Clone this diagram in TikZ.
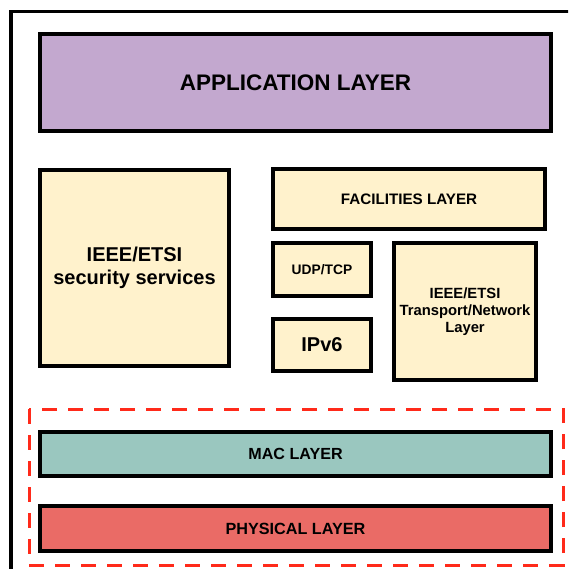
\documentclass[tikz,border=0pt]{standalone}
\usepackage{fontspec}
\setmainfont{Liberation Sans}
\definecolor{appc}{HTML}{C3A8CF}
\definecolor{yelc}{HTML}{FFF2CC}
\definecolor{macc}{HTML}{9AC7BF}
\definecolor{phyc}{HTML}{EA6B66}
\definecolor{dashc}{HTML}{FF2A1A}
\begin{document}
\begin{tikzpicture}[x=1pt,y=-1pt,
  layerbox/.style={draw=black,line width=4pt,rectangle,inner sep=0pt,align=center,font=\bfseries},
  dashframe/.style={draw=dashc,line width=3pt,dash pattern=on 15pt off 11pt}]
\useasboundingbox (0,0) rectangle (568,569);
\clip (0,0) rectangle (568,569);
\fill[white] (0,0) rectangle (568,569);
\draw[line width=3.5pt] (11,11.5) rectangle (620,620);
\node[layerbox,fill=appc,minimum width=511pt,minimum height=97pt,font=\bfseries\fontsize{22.5}{26}\selectfont] (app) at (295.5,82.5) {APPLICATION LAYER};
\node[layerbox,fill=yelc,minimum width=189pt,minimum height=195pt,font=\bfseries\fontsize{20}{23}\selectfont] (sec) at (134.5,268) {IEEE/ETSI\\security services};
\node[layerbox,fill=yelc,minimum width=272pt,minimum height=60pt,font=\bfseries\fontsize{15.2}{17}\selectfont] (fac) at (409,199) {FACILITIES LAYER};
\node[layerbox,fill=yelc,minimum width=98pt,minimum height=53pt,font=\bfseries\fontsize{13.8}{16}\selectfont] (udp) at (322,269.5) {UDP/TCP};
\node[layerbox,fill=yelc,minimum width=98pt,minimum height=52pt,font=\bfseries\fontsize{20}{23}\selectfont] (ipv) at (322,345) {IPv6};
\node[layerbox,fill=yelc,minimum width=142pt,minimum height=137pt,font=\bfseries\fontsize{14.8}{16.7}\selectfont] (net) at (465,311.5) {IEEE/ETSI\\Transport/Network\\Layer};
\draw[dashframe] (29,409) rectangle (563,565);
\node[layerbox,fill=macc,minimum width=511pt,minimum height=44pt,font=\bfseries\fontsize{16.1}{19}\selectfont] (mac) at (295.5,454) {MAC LAYER};
\node[layerbox,fill=phyc,minimum width=511pt,minimum height=45pt,font=\bfseries\fontsize{16.2}{19}\selectfont] (phy) at (295.5,528.5) {PHYSICAL LAYER};
\end{tikzpicture}
\end{document}
